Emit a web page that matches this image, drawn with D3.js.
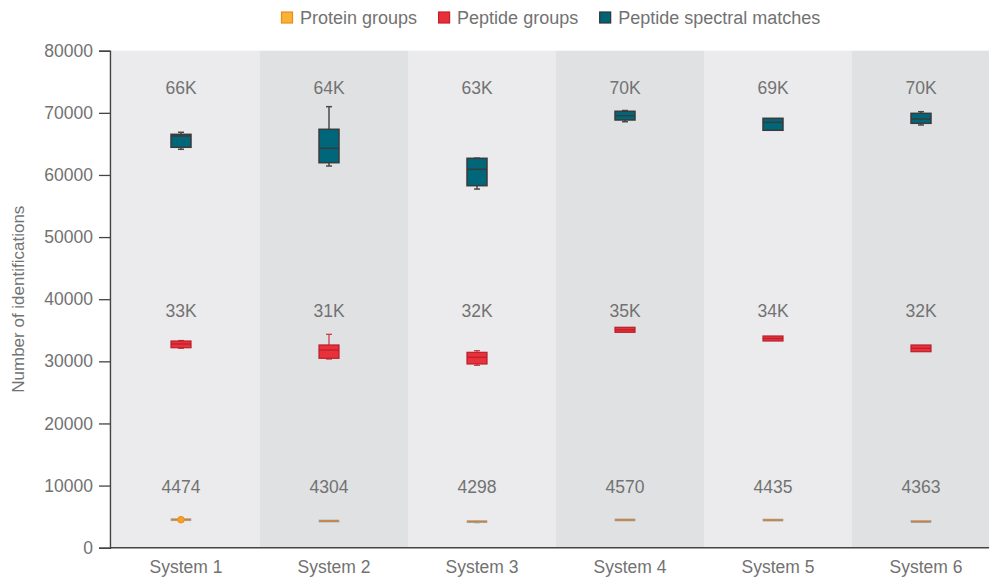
<!DOCTYPE html>
<html>
<head>
<meta charset="utf-8">
<script src="https://cdn.jsdelivr.net/npm/d3@7/dist/d3.min.js"></script>
<style>
  html, body { margin: 0; padding: 0; background: #ffffff; }
  svg { display: block; font-family: "Liberation Sans", "Helvetica Neue", Helvetica, Arial, sans-serif; }
</style>
</head>
<body>
<svg id="chart" width="989" height="577"></svg>
<script>
// ---------- data ----------
const systems = ["System 1", "System 2", "System 3", "System 4", "System 5", "System 6"];
const seriesNames = ["Protein groups", "Peptide groups", "Peptide spectral matches"];
const yTicks = [0, 10000, 20000, 30000, 40000, 50000, 60000, 70000, 80000];

// Peptide spectral matches (box statistics)
const psmMin    = [64130, 61440, 57730, 68570, 67190, 68040];
const psmQ1     = [64450, 61970, 58270, 68845, 67190, 68310];
const psmMedian = [66270, 64290, 60910, 69540, 68475, 69010];
const psmQ3     = [66540, 67350, 62680, 70250, 69120, 69920];
const psmMax    = [66870, 70990, 62700, 70370, 69120, 70180];
const psmLabels = ["66K", "64K", "63K", "70K", "69K", "70K"];

// Peptide groups
const pepMin    = [32100, 30370, 29360, 34672, 33272, 31550];
const pepQ1     = [32190, 30490, 29570, 34672, 33272, 31550];
const pepMedian = [32790, 31820, 30650, 35070, 33674, 32097];
const pepQ3     = [33270, 32630, 31450, 35477, 34076, 32628];
const pepMax    = [33350, 34350, 31710, 35477, 34076, 32628];
const pepLabels = ["33K", "31K", "32K", "35K", "34K", "32K"];

// Protein groups
const protMin    = [4440, 4250, 3980, 4420, 4400, 4150];
const protQ1     = [4460, 4260, 4150, 4430, 4410, 4160];
const protMedian = [4500, 4300, 4190, 4460, 4450, 4190];
const protQ3     = [4540, 4330, 4220, 4500, 4490, 4220];
const protMax    = [4560, 4340, 4230, 4510, 4500, 4230];
const protPoints = [[4510], [], [], [], [], []];
const protLabels = ["4474", "4304", "4298", "4570", "4435", "4363"];

// ---------- styles ----------
const styles = [
  { fill: "#e5782a", stroke: "#86a8a2", whisker: "#86a8a2", legendFill: "#f9b233", legendStroke: "#ec8a1c", sw: 0.6, minH: 2 },
  { fill: "#e8313a", stroke: "#b8202b", whisker: "#c0363e", legendFill: "#e8303a", legendStroke: "#c21f2b", sw: 1.2, minH: 1 },
  { fill: "#006679", stroke: "#3b3b3b", whisker: "#4a4a4a", legendFill: "#006478", legendStroke: "#333333", sw: 1.5, minH: 1 }
];

const svg = d3.select("#chart");
const plotTop = 50.7, plotBottom = 547.7, plotLeft = 110, plotRight = 1000;

const x = d3.scaleBand().domain(systems).range([112, 1000]).padding(0);
const y = d3.scaleLinear().domain([0, 80000]).range([plotBottom, plotTop]);

// background bands
svg.append("g").selectAll("rect").data(systems).join("rect")
  .attr("x", d => x(d))
  .attr("y", plotTop)
  .attr("width", x.bandwidth())
  .attr("height", plotBottom - plotTop)
  .attr("fill", (d, i) => i % 2 === 0 ? "#ebebed" : "#e0e1e3");

// y axis
const yAxis = svg.append("g")
  .attr("transform", `translate(${plotLeft},0)`)
  .call(d3.axisLeft(y).tickValues(yTicks).tickFormat(d3.format("d")).tickSize(11).tickPadding(6));
yAxis.select(".domain").attr("stroke", "#444").attr("stroke-width", 1.5);
yAxis.selectAll(".tick line").attr("stroke", "#444").attr("stroke-width", 1.3);
yAxis.selectAll(".tick text").attr("fill", "#727272").attr("font-size", 17.5);

// x axis
const xAxis = svg.append("g")
  .attr("transform", `translate(0,${plotBottom})`)
  .call(d3.axisBottom(x).tickSize(0).tickPadding(13));
xAxis.select(".domain").attr("stroke", "#444").attr("stroke-width", 1.5).attr("d", `M${plotLeft},0H${plotRight}`);
xAxis.selectAll(".tick text").attr("fill", "#727272").attr("font-size", 17.5);

// y title
svg.append("text")
  .attr("transform", `translate(24,${(plotTop + plotBottom) / 2}) rotate(-90)`)
  .attr("text-anchor", "middle")
  .attr("fill", "#727272")
  .attr("font-size", 17)
  .text("Number of identifications");

// box plots
const boxW = 20, capW = 6, offset = -5;
function drawBoxes(st, mins, q1s, meds, q3s, maxs) {
  const g = svg.append("g");
  systems.forEach((s, i) => {
    const cx = x(s) + x.bandwidth() / 2 + offset;
    if (maxs[i] > q3s[i]) {
      g.append("line").attr("x1", cx).attr("x2", cx).attr("y1", y(maxs[i])).attr("y2", y(q3s[i]))
        .attr("stroke", st.whisker).attr("stroke-width", st.sw);
      g.append("line").attr("x1", cx - capW / 2).attr("x2", cx + capW / 2).attr("y1", y(maxs[i])).attr("y2", y(maxs[i]))
        .attr("stroke", st.whisker).attr("stroke-width", st.sw);
    }
    if (mins[i] < q1s[i]) {
      g.append("line").attr("x1", cx).attr("x2", cx).attr("y1", y(q1s[i])).attr("y2", y(mins[i]))
        .attr("stroke", st.whisker).attr("stroke-width", st.sw);
      g.append("line").attr("x1", cx - capW / 2).attr("x2", cx + capW / 2).attr("y1", y(mins[i])).attr("y2", y(mins[i]))
        .attr("stroke", st.whisker).attr("stroke-width", st.sw);
    }
    const yTop = y(q3s[i]), yBot = y(q1s[i]);
    const h = Math.max(st.minH, yBot - yTop);
    const yMid = (yTop + yBot) / 2;
    g.append("rect")
      .attr("x", cx - boxW / 2).attr("width", boxW)
      .attr("y", yBot - yTop >= st.minH ? yTop : yMid - h / 2).attr("height", h)
      .attr("fill", st.fill).attr("stroke", st.stroke).attr("stroke-width", st.sw);
    if (st.minH <= 1) {
      g.append("line").attr("x1", cx - boxW / 2).attr("x2", cx + boxW / 2)
        .attr("y1", y(meds[i])).attr("y2", y(meds[i]))
        .attr("stroke", st.stroke).attr("stroke-width", st.sw);
    }
  });
}
drawBoxes(styles[0], protMin, protQ1, protMedian, protQ3, protMax);
drawBoxes(styles[1], pepMin, pepQ1, pepMedian, pepQ3, pepMax);
drawBoxes(styles[2], psmMin, psmQ1, psmMedian, psmQ3, psmMax);

// protein points
systems.forEach((s, i) => {
  const cx = x(s) + x.bandwidth() / 2 + offset;
  protPoints[i].forEach(v => {
    svg.append("circle").attr("cx", cx).attr("cy", y(v)).attr("r", 3.3)
      .attr("fill", "#f7a21b").attr("stroke", "#ef8a25").attr("stroke-width", 1);
  });
});

// value labels
function drawLabels(labels, level) {
  svg.append("g").selectAll("text").data(labels).join("text")
    .attr("x", (d, i) => x(systems[i]) + x.bandwidth() / 2 + offset)
    .attr("y", y(level))
    .attr("text-anchor", "middle")
    .attr("fill", "#727272")
    .attr("font-size", 17.5)
    .text(d => d);
}
drawLabels(psmLabels, 73000);
drawLabels(pepLabels, 37100);
drawLabels(protLabels, 8750);

// legend
const legend = svg.append("g").attr("transform", "translate(281,0)");
let lx = 0;
seriesNames.forEach((name, i) => {
  const it = legend.append("g").attr("transform", `translate(${lx},0)`);
  it.append("rect").attr("x", 0.5).attr("y", 12).attr("width", 11).attr("height", 11)
    .attr("fill", styles[i].legendFill).attr("stroke", styles[i].legendStroke).attr("stroke-width", 1.2);
  const t = it.append("text").attr("x", 19).attr("y", 24).attr("fill", "#727272").attr("font-size", 18).text(name);
  lx += 19 + t.node().getComputedTextLength() + 21;
});
</script>
</body>
</html>
